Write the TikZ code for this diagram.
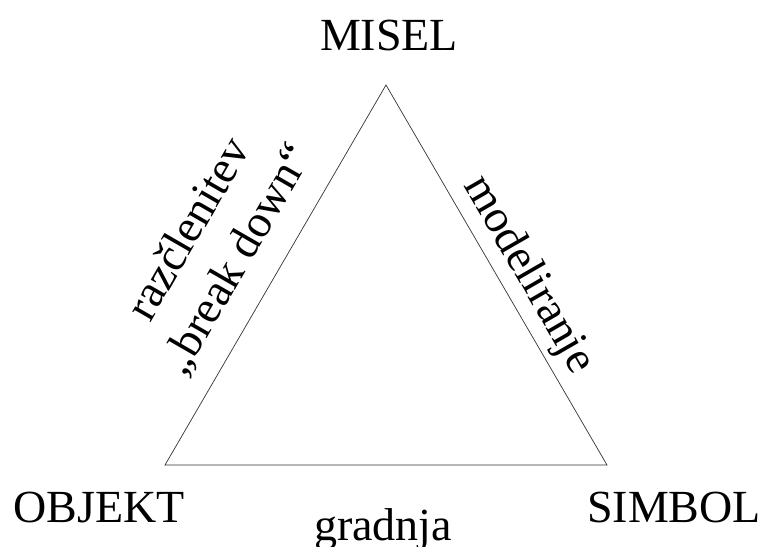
\documentclass[tikz,border=0pt]{standalone}
\usepackage{fontspec}
\setmainfont{Liberation Serif}
\begin{document}
\begin{tikzpicture}[x=1pt,y=-1pt,
  lbl/.style={font=\fontsize{46}{52}\selectfont, inner sep=0pt},
  side/.style={draw=black!80, line width=0.7pt}]
\useasboundingbox (0,0) rectangle (768,546);
\coordinate (T) at (386,85);
\coordinate (L) at (165,465);
\coordinate (R) at (607,465);
\draw[side] (T) -- (L) -- (R) -- cycle;
\node[lbl, anchor=base] (misel) at (389,50) {MISEL};
\node[lbl, anchor=base] (objekt) at (99,522) {OBJEKT};
\node[lbl, anchor=base] (simbol) at (674,522) {SIMBOL};
\node[lbl, anchor=base] (gradnja) at (383,540) {gradnja};
\node[lbl, rotate=60] (razc) at (187,228) {razčlenitev};
\node[lbl, rotate=60] (break) at (238,260) {„break down“};
\node[lbl, rotate=-60] (model) at (528,275) {modeliranje};
\end{tikzpicture}
\end{document}
